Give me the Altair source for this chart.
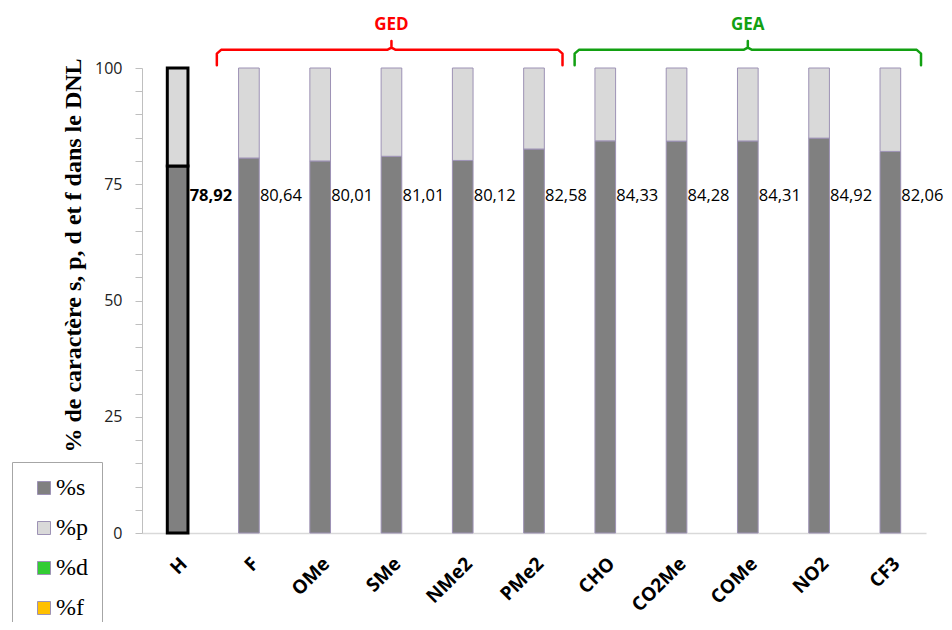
import altair as alt
import pandas as pd

# ---- data ----
categories = ["H", "F", "OMe", "SMe", "NMe2", "PMe2", "CHO", "CO2Me", "COMe", "NO2", "CF3"]
pct_s = [78.92, 80.64, 80.01, 81.01, 80.12, 82.58, 84.33, 84.28, 84.31, 84.92, 82.06]
pct_p = [round(100 - v, 2) for v in pct_s]
components = ["%s", "%p", "%d", "%f"]
comp_colors = ["#808080", "#d9d9d9", "#33cc33", "#ffc000"]

groups = ["GED", "GEA"]
group_start = [0.55, 5.57]     # in category-index units
group_end = [5.40, 10.43]
group_center = [3.0, 8.0]
group_colors = ["#ff0000", "#12a012"]

# ---- tables ----
rows = []
for c, s, p in zip(categories, pct_s, pct_p):
    rows.append({"cat": c, "comp": "%s", "val": s, "ord": 0})
    rows.append({"cat": c, "comp": "%p", "val": p, "ord": 1})
bar_df = pd.DataFrame(rows)

lab_df = pd.DataFrame({
    "cat": categories,
    "label": [f"{v:.2f}".replace(".", ",") for v in pct_s],
})

# bracket geometry (annotation)
y_bot, y_mid, y_tip = 100.6, 103.9, 105.8
rx, ry = 0.06, 0.8
brk_rows = []
for g, x0, x1, xc in zip(groups, group_start, group_end, group_center):
    pts = [(x0, y_bot), (x0, y_mid - ry), (x0 + rx, y_mid), (xc - rx, y_mid),
           (xc, y_mid + ry * 0.6), (xc, y_tip), (xc, y_mid + ry * 0.6), (xc + rx, y_mid),
           (x1 - rx, y_mid), (x1, y_mid - ry), (x1, y_bot)]
    for i, (x, y) in enumerate(pts):
        brk_rows.append({"group": g, "o": i, "x": x, "y": y})
brk_df = pd.DataFrame(brk_rows)
grp_df = pd.DataFrame({"group": groups, "x": group_center, "y": [109.3, 109.3]})

# ---- scales / axes ----
x_scale = alt.Scale(type="band", paddingInner=0.71, paddingOuter=0.355)
y_scale = alt.Scale(domain=[0, 100], nice=False, zero=True)
y_axis = alt.Axis(
    values=list(range(0, 101, 5)),
    labelExpr="datum.value % 25 === 0 ? datum.label : ''",
    tickSize=7, tickColor="#bfbfbf", domainColor="#bfbfbf", grid=False,
    labelFont="Open Sans", labelFontSize=16, labelColor="#222222", labelPadding=13,
    title="%  de caractère s, p, d et f dans le DNL",
    titleFont="Liberation Serif", titleFontSize=24, titleFontWeight="bold",
    titleAngle=270, titleX=-69, titleY=187, titleAlign="center",
    titleBaseline="middle", titleColor="#000000",
)
x_axis = alt.Axis(
    title=None, ticks=False, labelAngle=-45, labelFont="Open Sans",
    labelFontWeight="bold", labelFontSize=19, labelColor="#000000",
    labelPadding=21, domainColor="#d9d9d9", domainWidth=1.5,
)

is_h = "datum.cat === 'H'"

bars = alt.Chart(bar_df).mark_bar().encode(
    x=alt.X("cat:N", sort=categories, scale=x_scale, axis=x_axis),
    y=alt.Y("val:Q", stack="zero", scale=y_scale, axis=y_axis),
    color=alt.Color(
        "comp:N",
        scale=alt.Scale(domain=components, range=comp_colors),
        legend=alt.Legend(
            title=None, orient="none", legendX=-130, legendY=394,
            direction="vertical", labelFont="Liberation Serif", labelFontSize=24,
            labelColor="#000000", symbolType="square", symbolSize=169,
            symbolStrokeColor="#9d92b5", symbolStrokeWidth=1, rowPadding=16,
            padding=14, strokeColor="#a6a6a6", fillColor="white",
            labelOffset=0, symbolOffset=6,
        ),
    ),
    order=alt.Order("ord:Q"),
    stroke=alt.condition(is_h, alt.value("#000000"), alt.value("#9d92b5")),
    strokeWidth=alt.condition(is_h, alt.value(3), alt.value(1)),
)

lab_normal = alt.Chart(lab_df).transform_filter("datum.cat !== 'H'").mark_text(
    align="left", baseline="middle", dx=11, fontSize=16.5, font="Open Sans", color="#000000"
).encode(
    x=alt.X("cat:N", sort=categories, scale=x_scale, axis=x_axis),
    y=alt.YDatum(72.5, type="quantitative", scale=y_scale, axis=y_axis),
    text="label:N",
)
lab_bold = alt.Chart(lab_df).transform_filter(is_h).mark_text(
    align="left", baseline="middle", dx=12, fontSize=16.5, font="Open Sans",
    fontWeight="bold", color="#000000"
).encode(
    x=alt.X("cat:N", sort=categories, scale=x_scale, axis=x_axis),
    y=alt.YDatum(72.5, type="quantitative", scale=y_scale, axis=y_axis),
    text="label:N",
)

bx_scale = alt.Scale(domain=[-0.5, 10.5], nice=False, zero=False)
brackets = alt.Chart(brk_df).mark_line(
    strokeWidth=2.5, strokeCap="round", strokeJoin="round", clip=False
).encode(
    x=alt.X("x:Q", scale=bx_scale, axis=None),
    y=alt.Y("y:Q", scale=y_scale, axis=y_axis),
    color=alt.Color("group:N", scale=alt.Scale(domain=groups, range=group_colors), legend=None),
    detail="group:N",
    order="o:Q",
)
grp_text = alt.Chart(grp_df).mark_text(
    fontSize=17, font="Open Sans", fontWeight="bold", baseline="middle", align="center"
).encode(
    x=alt.X("x:Q", scale=bx_scale, axis=None),
    y=alt.Y("y:Q", scale=y_scale, axis=y_axis),
    text="group:N",
    color=alt.Color("group:N", scale=alt.Scale(domain=groups, range=group_colors), legend=None),
)

main = alt.layer(bars, lab_normal, lab_bold)
annot = alt.layer(brackets, grp_text)

chart = alt.layer(main, annot).resolve_scale(
    x="independent", color="independent"
).properties(
    width=784, height=465,
    autosize=alt.AutoSizeParams(type="none"),
    padding={"left": 134, "top": 60, "right": 18, "bottom": 89},
).configure_view(stroke=None)

chart.save("out.html", embed_options={"renderer": "svg", "actions": False})
